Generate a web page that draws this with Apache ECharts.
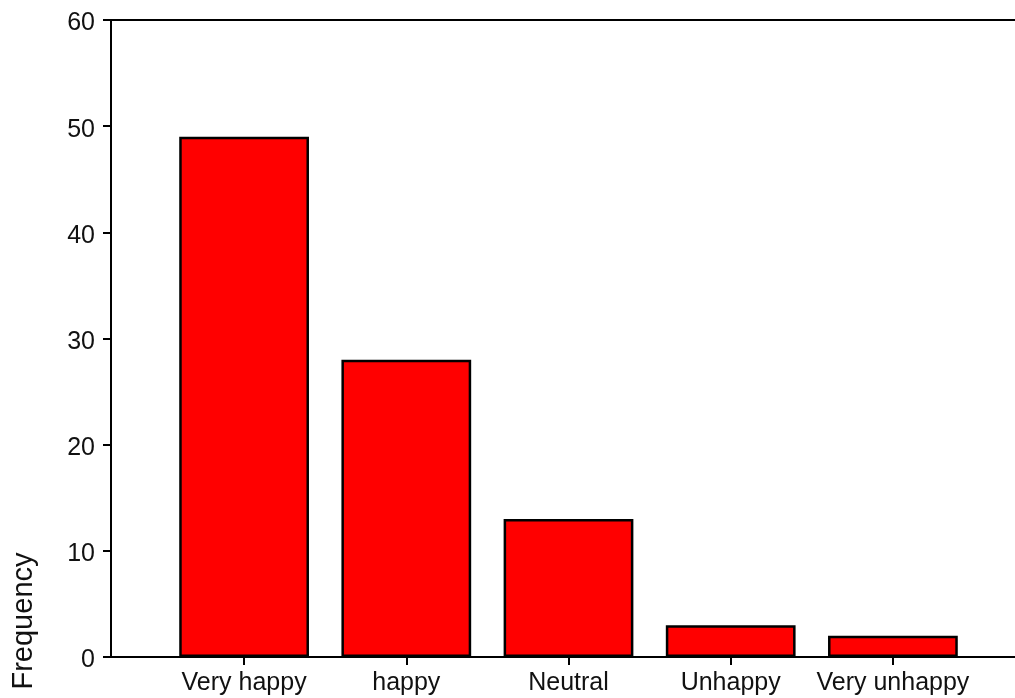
<!DOCTYPE html>
<html>
<head>
<meta charset="utf-8">
<script src="https://cdn.jsdelivr.net/npm/echarts@6/dist/echarts.min.js"></script>
<style>
html,body{margin:0;padding:0;background:#fff;}
#chart{width:1015px;height:698px;}
</style>
</head>
<body>
<div id="chart"></div>
<script>
const categories = ['Very happy', 'happy', 'Neutral', 'Unhappy', 'Very unhappy'];
const frequencies = [49, 28, 13, 3, 2];
const yMin = 0, yMax = 60, yInterval = 10;
const yAxisTitle = 'Frequency';

const FONT = "'Liberation Sans', Arial, sans-serif";
const chart = echarts.init(document.getElementById('chart'), null, {renderer: 'canvas'});
chart.setOption({
  animation: false,
  backgroundColor: '#ffffff',
  grid: [
    {left: 111, right: 0, top: 20, bottom: 41},
    {left: 163, right: 41, top: 20, bottom: 41}
  ],
  xAxis: [
    {gridIndex: 0, type: 'value', min: 0, max: 1, position: 'bottom',
     axisLine: {show: true, lineStyle: {color: '#000', width: 2}},
     axisTick: {show: false}, axisLabel: {show: false}, splitLine: {show: false}},
    {gridIndex: 0, type: 'value', min: 0, max: 1, position: 'top',
     axisLine: {show: true, lineStyle: {color: '#000', width: 2}},
     axisTick: {show: false}, axisLabel: {show: false}, splitLine: {show: false}},
    {gridIndex: 1, type: 'category', data: categories, position: 'bottom',
     axisLine: {show: false},
     axisTick: {show: true, alignWithLabel: true, length: 8, lineStyle: {color: '#000', width: 2}},
     axisLabel: {color: '#111', fontSize: 25, fontFamily: FONT, margin: 14, interval: 0},
     splitLine: {show: false}}
  ],
  yAxis: [
    {gridIndex: 0, type: 'value', min: yMin, max: yMax, interval: yInterval,
     axisLine: {show: true, lineStyle: {color: '#000', width: 2}},
     axisTick: {show: true, length: 8, lineStyle: {color: '#000', width: 2}},
     axisLabel: {color: '#111', fontSize: 25, fontFamily: FONT, margin: 16, verticalAlign: 'top', lineHeight: 7},
     splitLine: {show: false}},
    {gridIndex: 1, type: 'value', min: yMin, max: yMax, interval: yInterval, show: false}
  ],
  graphic: [{
    type: 'text', x: 24, y: 621, rotation: Math.PI / 2,
    style: {text: yAxisTitle, font: '29px ' + FONT, fill: '#111', align: 'center', verticalAlign: 'middle'}
  }],
  series: [{
    type: 'bar', xAxisIndex: 2, yAxisIndex: 1,
    data: frequencies, barWidth: '80%',
    itemStyle: {color: '#ff0000', borderColor: '#000', borderWidth: 2.5}
  }]
});
</script>
</body>
</html>
